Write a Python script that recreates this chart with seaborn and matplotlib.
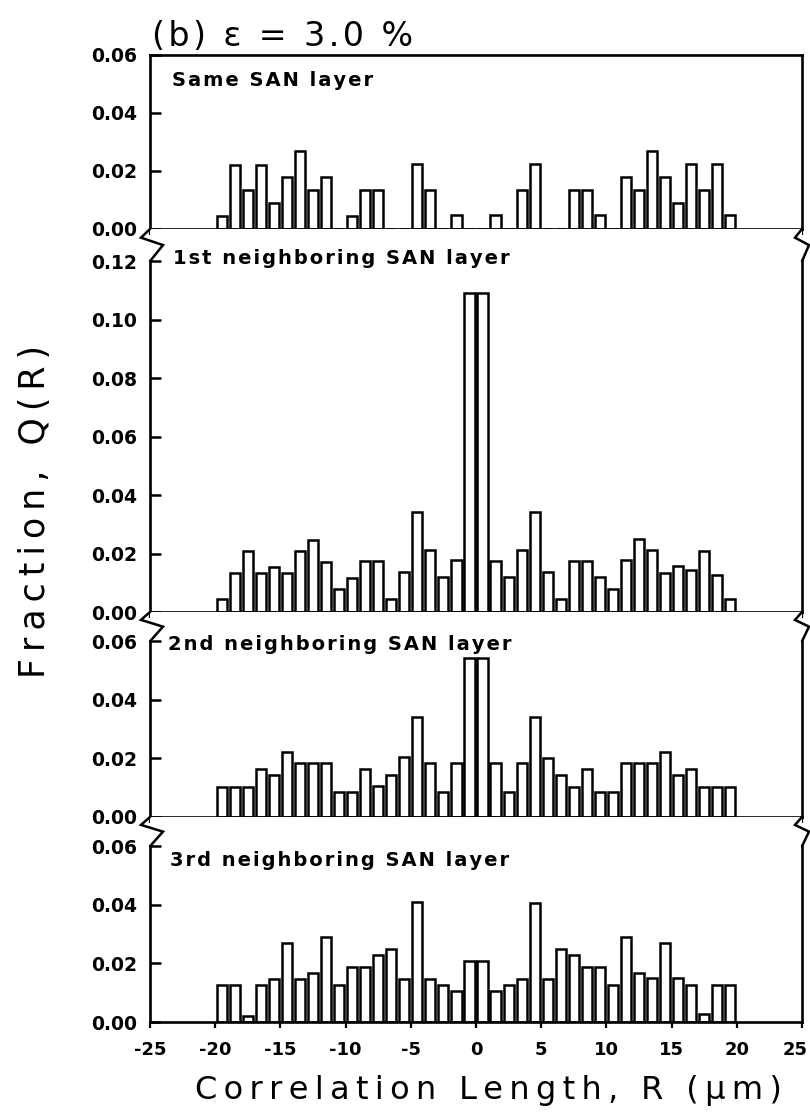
import numpy as np
import pandas as pd
import matplotlib
matplotlib.use('Agg')
import matplotlib.pyplot as plt
import seaborn as sns

# bar centres (um) and fractions
R = [-19.5, -18.5, -17.5, -16.5, -15.5, -14.5, -13.5, -12.5, -11.5, -10.5,
     -9.5, -8.5, -7.5, -6.5, -5.5, -4.5, -3.5, -2.5, -1.5, -0.5,
     0.5, 1.5, 2.5, 3.5, 4.5, 5.5, 6.5, 7.5, 8.5, 9.5,
     10.5, 11.5, 12.5, 13.5, 14.5, 15.5, 16.5, 17.5, 18.5, 19.5]

same_layer = [0.0045, 0.022, 0.0135, 0.022, 0.009, 0.018, 0.027, 0.0135, 0.018, 0.0,
              0.0045, 0.0135, 0.0135, 0.0, 0.0, 0.0225, 0.0135, 0.0, 0.005, 0.0,
              0.0, 0.005, 0.0, 0.0135, 0.0225, 0.0, 0.0, 0.0135, 0.0135, 0.005,
              0.0, 0.018, 0.0135, 0.027, 0.018, 0.009, 0.0225, 0.0135, 0.0225, 0.005]

first_nb = [0.0044, 0.0134, 0.0209, 0.0134, 0.0154, 0.0134, 0.0209, 0.0246, 0.0171, 0.008,
            0.0117, 0.0174, 0.0174, 0.0044, 0.0138, 0.0342, 0.0211, 0.012, 0.0177, 0.109,
            0.109, 0.0174, 0.012, 0.0211, 0.0342, 0.0138, 0.0044, 0.0174, 0.0174, 0.012,
            0.008, 0.0177, 0.025, 0.0211, 0.0134, 0.0156, 0.0145, 0.021, 0.0128, 0.0044]

second_nb = [0.0104, 0.0104, 0.0104, 0.0164, 0.0144, 0.0222, 0.0183, 0.0183, 0.0183, 0.0084,
             0.0084, 0.0164, 0.0107, 0.0144, 0.0204, 0.0343, 0.0183, 0.0087, 0.0183, 0.0542,
             0.0542, 0.0183, 0.0084, 0.0183, 0.0343, 0.0203, 0.0144, 0.0104, 0.0164, 0.0084,
             0.0084, 0.0183, 0.0183, 0.0183, 0.0222, 0.0144, 0.0164, 0.0104, 0.0104, 0.0104]

third_nb = [0.0126, 0.0126, 0.002, 0.0126, 0.0146, 0.0269, 0.0146, 0.0166, 0.0289, 0.0126,
            0.0189, 0.0189, 0.0229, 0.0248, 0.0147, 0.0411, 0.0147, 0.0126, 0.0107, 0.0209,
            0.0209, 0.0107, 0.0126, 0.0146, 0.0408, 0.0146, 0.0248, 0.0229, 0.0189, 0.0189,
            0.0126, 0.0289, 0.0169, 0.015, 0.0271, 0.015, 0.0128, 0.0026, 0.0128, 0.0128]

panel_names = ['Same SAN layer', '1st neighboring SAN layer',
               '2nd neighboring SAN layer', '3rd neighboring SAN layer']
series = [same_layer, first_nb, second_nb, third_nb]
ymax = [0.06, 0.131, 0.070, 0.070]
ytop_tick = [0.06, 0.12, 0.06, 0.06]
xticks = [-25, -20, -15, -10, -5, 0, 5, 10, 15, 20, 25]

sns.set_style('ticks')
plt.rcParams['font.family'] = ['DejaVu Sans']
plt.rcParams['axes.unicode_minus'] = False
for k in ['text.color', 'axes.edgecolor', 'axes.labelcolor', 'xtick.color', 'ytick.color']:
    plt.rcParams[k] = 'black'

W, H = 810, 1114
fig = plt.figure(figsize=(W / 100, H / 100), dpi=100)
edges = [55, 229, 612, 817, 1022]   # panel borders in pixels
x0, wpx = 150, 652


def spaced(s, sep='\u2009'):
    # the original lettering is widely spaced
    return sep.join(list(s))


def zigzag(ax, top, tick, side):
    # axis break mark between stacked panels
    if side == 0:
        dx, xa = [0, -9, 13, 0], 0
    else:
        dx, xa = [0, -7, 7, 0], 1
    gap = top - tick
    xs = [xa + d / wpx for d in dx]
    ys = [top, top - 0.27 * gap, top - 0.5 * gap, tick]
    ax.plot(xs, ys, transform=ax.get_yaxis_transform(), color='black',
            lw=1.8, clip_on=False, solid_joinstyle='miter')


axes = []
for i in range(4):
    ax = fig.add_axes([x0 / W, 1 - edges[i + 1] / H, wpx / W, (edges[i + 1] - edges[i]) / H])
    df = pd.DataFrame({'R': R, 'Q': series[i]})
    sns.barplot(data=df, x='R', y='Q', native_scale=True, width=0.78, color='white',
                saturation=1, edgecolor='black', linewidth=1.8, errorbar=None, ax=ax)
    ax.set_xlim(-25, 25)
    ax.set_ylim(0, ymax[i])
    ax.set_xlabel('')
    ax.set_ylabel('')
    ax.set_xticks(xticks)
    ax.set_yticks(np.arange(0, ytop_tick[i] + 0.001, 0.02))
    ax.yaxis.set_major_formatter(matplotlib.ticker.FormatStrFormatter('%.2f'))
    ax.tick_params(axis='y', direction='in', length=8, width=1.8, labelsize=13.5, pad=9)
    ax.tick_params(axis='x', direction='out', length=4, width=1.6, labelsize=13, pad=10)
    for s in ['left', 'right', 'bottom', 'top']:
        ax.spines[s].set_linewidth(1.9)
        ax.spines[s].set_visible(True)
    if i > 0:
        ax.spines['top'].set_visible(False)
        ax.spines['left'].set_bounds(0, ytop_tick[i])
        ax.spines['right'].set_bounds(0, ytop_tick[i])
        zigzag(ax, ymax[i], ytop_tick[i], 0)
        zigzag(ax, ymax[i], ytop_tick[i], 1)
    if i < 3:
        ax.tick_params(axis='x', labelbottom=False)
    else:
        ax.set_xticklabels([str(t) for t in xticks[:-1]] + [''])
        ax.annotate(str(xticks[-1]), xy=(xticks[-1], 0), xycoords=('data', 'axes fraction'),
                    xytext=(-5, -14), textcoords='offset points', ha='center', va='top',
                    fontsize=13, fontweight='bold')
    for lab in ax.get_yticklabels() + ax.get_xticklabels():
        lab.set_fontweight('bold')
    axes.append(ax)

# panel captions
label_pos = [(172, 81), (173, 258), (168, 645), (170, 861)]
for name, (px, py) in zip(panel_names, label_pos):
    fig.text(px / W, 1 - py / H, spaced(name, '\u200a'), fontsize=14, fontweight='bold',
             ha='left', va='center')

fig.text(152 / W, 1 - 36 / H, spaced('(b) ε = 3.0 %', '\u200a'), fontsize=24,
         ha='left', va='center')
fig.text(488 / W, 1 - 1090 / H, spaced('Correlation Length, R (μm)'), fontsize=23,
         ha='center', va='center')
fig.text(35 / W, 1 - 512 / H, spaced('Fraction, Q(R)'), fontsize=25, rotation=90,
         ha='center', va='center')

fig.savefig('out.png', dpi=100)
